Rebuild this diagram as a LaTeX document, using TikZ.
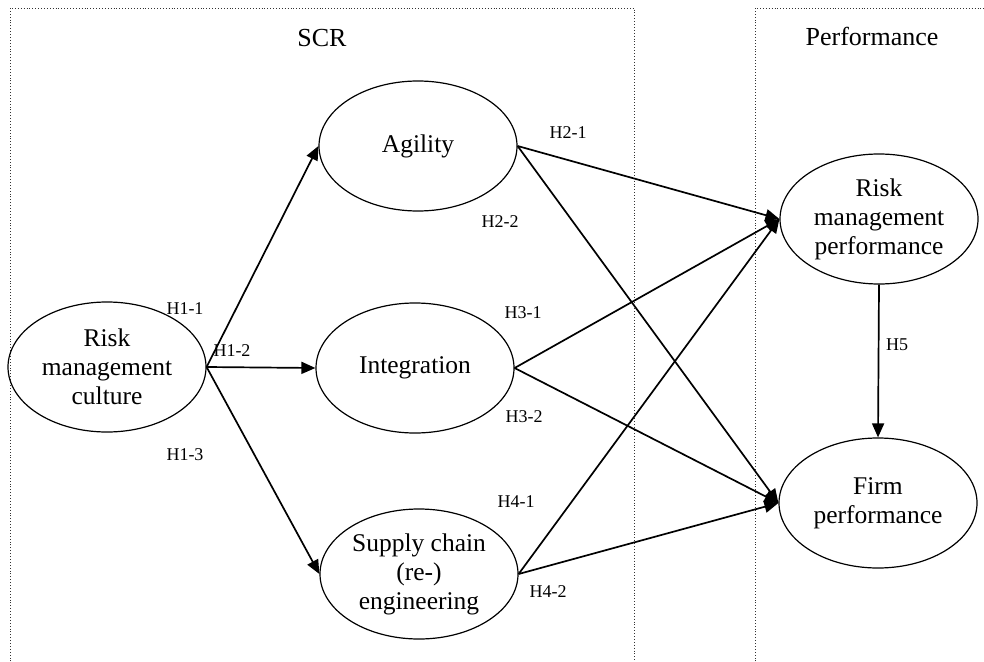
\documentclass[tikz,border=0pt]{standalone}
\usepackage{fontspec}
\setmainfont{Liberation Serif}
\usetikzlibrary{arrows.meta,shapes.geometric}
\begin{document}
\begin{tikzpicture}[x=1pt,y=-1pt,
  construct/.style={ellipse,draw,line width=1.2pt,minimum width=198pt,minimum height=130pt,inner sep=0pt,align=center,font=\fontsize{25.5}{29}\selectfont},
  link/.style={line width=1.7pt,-{Triangle[length=14pt,width=12pt]}},
  hyp/.style={font=\fontsize{18}{20}\selectfont,inner sep=0pt},
  boxtitle/.style={font=\fontsize{26}{30}\selectfont,inner sep=0pt},
  region/.style={dotted,line width=0.9pt,black!80}]
\useasboundingbox (0,0) rectangle (984,661);
% regions
\draw[region] (10,670) -- (10,8) -- (634,8) -- (634,670);
\draw[region] (755,670) -- (755,8) -- (990,8);
\node[boxtitle] (scr) at (322,38) {SCR};
\node[boxtitle] (perf) at (872,36) {Performance};
% constructs
\node[construct] (rmc) at (107,367) {Risk\\management\\culture};
\node[construct] (agi) at (418,146) {Agility};
\node[construct] (int) at (415,368) {Integration};
\node[construct] (sce) at (419,574) {Supply chain\\(re-)\\engineering};
\node[construct] (rmp) at (879,219) {Risk\\management\\performance};
\node[construct] (fp) at (878,503) {Firm\\performance};
% links
\draw[link] (rmc.east) -- (agi.west);
\draw[link] (rmc.east) -- (int.west);
\draw[link] (rmc.east) -- (sce.west);
\draw[link] (agi.east) -- (rmp.west);
\draw[link] (agi.east) -- (fp.west);
\draw[link] (int.east) -- (rmp.west);
\draw[link] (int.east) -- (fp.west);
\draw[link] (sce.east) -- (rmp.west);
\draw[link] (sce.east) -- (fp.west);
\draw[link] (rmp.south) -- (fp.north);
% hypothesis labels
\node[hyp] (h11) at (185,309) {H1-1};
\node[hyp] (h12) at (232,351) {H1-2};
\node[hyp] (h13) at (185,455) {H1-3};
\node[hyp] (h21) at (568,133) {H2-1};
\node[hyp] (h22) at (500,222) {H2-2};
\node[hyp] (h31) at (523,313) {H3-1};
\node[hyp] (h32) at (524,417) {H3-2};
\node[hyp] (h41) at (516,502) {H4-1};
\node[hyp] (h42) at (548,592) {H4-2};
\node[hyp] (h5) at (897,345) {H5};
\end{tikzpicture}
\end{document}
